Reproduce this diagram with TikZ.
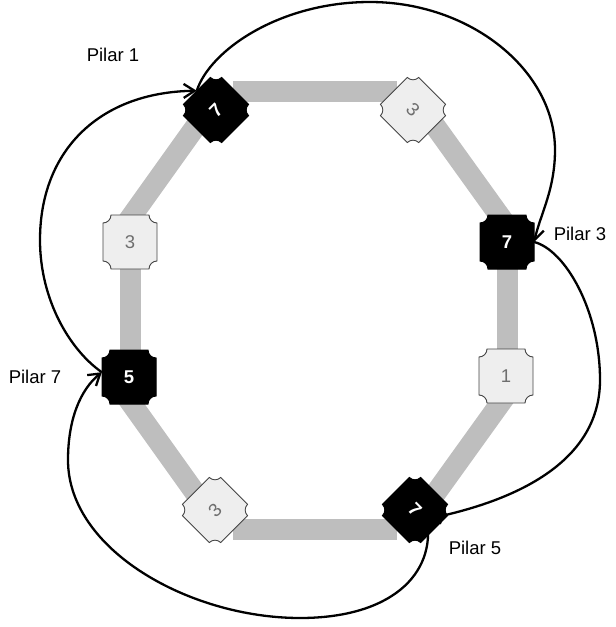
\documentclass[tikz,border=0pt]{standalone}
\usepackage{fontspec}
\setmainfont{Liberation Sans}
\usetikzlibrary{arrows.meta,calc}
\definecolor{trackgray}{HTML}{BEBEBE}
\definecolor{litefill}{HTML}{EEEEEE}
\definecolor{liteedge}{HTML}{444444}
\definecolor{digitgray}{HTML}{6E6E6E}
\pgfdeclarelayer{trackslayer}
\pgfdeclarelayer{linkslayer}
\pgfsetlayers{trackslayer,linkslayer,main}
\tikzset{
  pics/tileshape/.style={code={
    \path[pic actions] (-19,27) -- (19,27) arc[start angle=180,end angle=270,radius=8]
      -- (27,-19) arc[start angle=90,end angle=180,radius=8]
      -- (-19,-27) arc[start angle=0,end angle=90,radius=8]
      -- (-27,19) arc[start angle=270,end angle=360,radius=8] -- cycle;
  }},
  darktile/.style={fill=black,draw=black,line width=1pt},
  litetile/.style={fill=litefill,draw=liteedge,line width=0.9pt},
  tiletext/.style={shape=rectangle,minimum size=54pt,inner sep=0pt,font=\fontsize{18.5}{20}\selectfont},
  darktext/.style={tiletext,text=white,font=\bfseries\fontsize{18.5}{20}\selectfont},
  litetext/.style={tiletext,text=digitgray},
  track/.style={draw=trackgray,line width=21pt},
  link/.style={draw=black,line width=2.3pt,-{Straight Barb[length=11pt,width=14pt]}},
  lbl/.style={font=\fontsize{18.5}{20}\selectfont,text=black,inner sep=0pt},
}
\begin{document}
\begin{tikzpicture}[x=1pt,y=-1pt]
\useasboundingbox (0,0) rectangle (616,627);
% track bars
\begin{pgfonlayer}{trackslayer}
\draw[track] (233,91) -- (397,91);
\draw[track] (233,529) -- (397,529);
\draw[track] (130,250) -- (130,370);
\draw[track] (507,250) -- (507,370);
\draw[track] (206,112) -- (116,238);
\draw[track] (425,112) -- (517,240);
\draw[track] (206,508) -- (116,382);
\draw[track] (425,508) -- (517,380);
\end{pgfonlayer}
% tile shapes
\pic[darktile,rotate=45] at (216,110) {tileshape};
\pic[litetile,rotate=-45] at (413,110) {tileshape};
\pic[darktile] at (507,242) {tileshape};
\pic[litetile] at (506,376) {tileshape};
\pic[darktile,rotate=-45] at (415,510) {tileshape};
\pic[litetile,rotate=45] at (215,510) {tileshape};
\pic[darktile] at (129,377) {tileshape};
\pic[litetile] at (130,242) {tileshape};
% tile labels
\node[darktext,rotate=45] (tl) at (216,110) {7};
\node[litetext,rotate=-45] (tr) at (413,110) {3};
\node[darktext] (r1) at (507,242) {7};
\node[litetext] (r2) at (506,376) {1};
\node[darktext,rotate=-45] (br) at (415,510) {7};
\node[litetext,rotate=45] (bl) at (215,510) {3};
\node[darktext] (l2) at (129,377) {5};
\node[litetext] (l1) at (130,242) {3};
% connection point inside the lower right tile
\coordinate (pbr) at ([shift={(12,9)}]br.center);
% connectors (below the tiles)
\begin{pgfonlayer}{linkslayer}
\draw[link] (tl.north) .. controls (210,50) and (280,2) .. (370,2)
  .. controls (470,2) and (555,70) .. (555,150)
  .. controls (555,190) and (540,215) .. (r1.east);
\draw[link] (r1.east) .. controls (565,250) and (600,310) .. (600,380)
  .. controls (600,460) and (520,500) .. (pbr);
\draw[link] (pbr) .. controls (436,575) and (390,618) .. (300,618)
  .. controls (190,618) and (68,550) .. (68,460)
  .. controls (68,420) and (80,390) .. (l2.170);
\draw[link] (l2.170) .. controls (70,350) and (40,300) .. (40,240)
  .. controls (40,150) and (100,92) .. (tl.north);
\end{pgfonlayer}
% labels
\node[lbl] (p1) at (113,55) {Pilar 1};
\node[lbl] (p3) at (580,234) {Pilar 3};
\node[lbl] (p5) at (475,548) {Pilar 5};
\node[lbl] (p7) at (35,377) {Pilar 7};
\end{tikzpicture}
\end{document}
